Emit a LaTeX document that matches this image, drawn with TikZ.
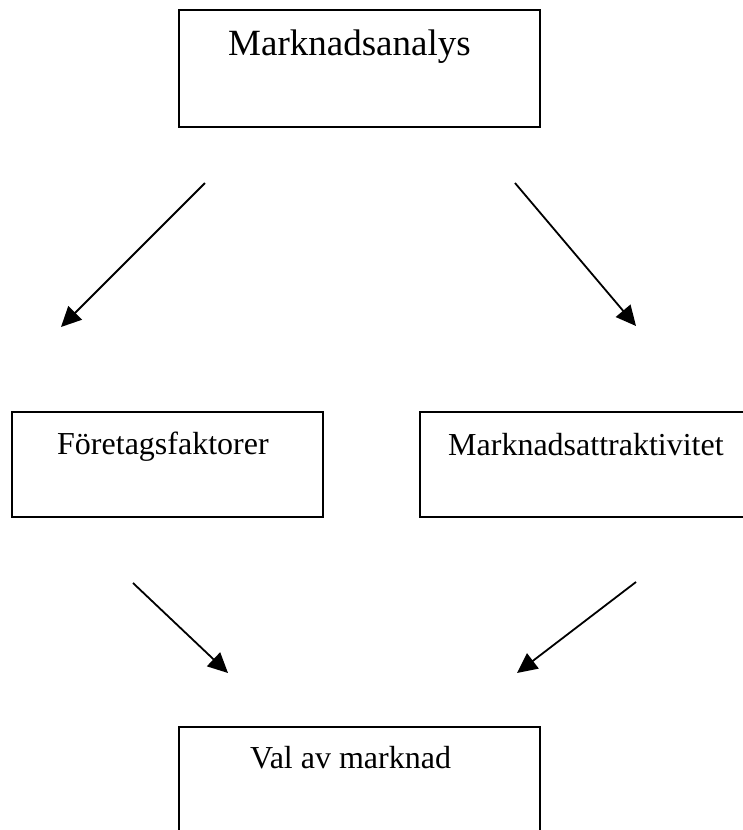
\documentclass[tikz,border=0pt]{standalone}
\usepackage{fontspec}
\setmainfont{Liberation Serif}
\usetikzlibrary{arrows.meta}
\tikzset{
  box/.style={draw=black, line width=2pt, rectangle, inner sep=0pt},
  lbl/.style={anchor=base west, inner sep=0pt, font=\fontsize{32}{38}\selectfont},
  arr/.style={line width=1.8pt, -{Triangle[length=20pt,width=19pt]}}
}
\begin{document}
\begin{tikzpicture}[x=1pt,y=-1pt]
\useasboundingbox (0,0) rectangle (743,830);
\clip (0,0) rectangle (743,830);
% boxes
\node[box, minimum width=361pt, minimum height=117pt] (top) at (359.5,68.5) {};
\node[box, minimum width=311pt, minimum height=105pt] (left) at (167.5,464.5) {};
\node[box, minimum width=360pt, minimum height=105pt] (right) at (600,464.5) {};
\node[box, minimum width=361pt, minimum height=140pt] (bottom) at (359.5,797) {};
% texts
\node[lbl, font=\fontsize{37}{44}\selectfont] (ttop) at (228,55) {Marknadsanalys};
\node[lbl] (tleft) at (57,454) {Företagsfaktorer};
\node[lbl] (tright) at (448,455) {Marknadsattraktivitet};
\node[lbl] (tbottom) at (250,768) {Val av marknad};
% arrow end points
\coordinate (a1s) at (205,183);
\coordinate (a1e) at (61,327);
\coordinate (a2s) at (515,183);
\coordinate (a2e) at (636,326);
\coordinate (a3s) at (133,583);
\coordinate (a3e) at (228,673);
\coordinate (a4s) at (636,582);
\coordinate (a4e) at (517,673);
\draw[arr] (a1s) -- (a1e);
\draw[arr] (a2s) -- (a2e);
\draw[arr] (a3s) -- (a3e);
\draw[arr] (a4s) -- (a4e);
\end{tikzpicture}
\end{document}
